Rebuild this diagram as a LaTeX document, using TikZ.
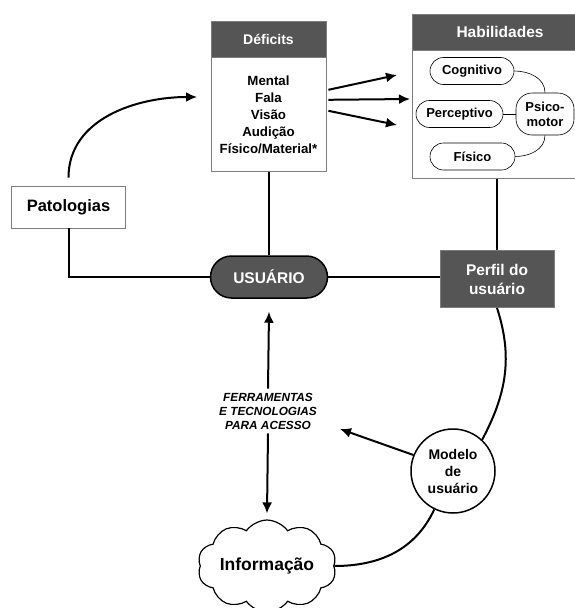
\documentclass[tikz,border=0pt]{standalone}
\usepackage{fontspec}
\setmainfont{Liberation Sans}
\usepackage{xcolor}
\usepackage{tikz}
\usetikzlibrary{positioning,arrows.meta,shapes.symbols}
\definecolor{boxgray}{RGB}{85,85,85}
\definecolor{edgegray}{RGB}{125,125,125}

\tikzset{
	head/.style={draw=edgegray,line width=0.8pt,fill=boxgray,text=white,inner sep=0pt,align=center},
	body/.style={draw=edgegray,line width=0.8pt,fill=white,inner sep=0pt,align=center},
	oval/.style={draw,line width=0.6pt,rounded corners=13.5pt,minimum height=27,inner sep=0pt,align=center,font=\bfseries\fontsize{13}{15}\selectfont},
	pill/.style={draw,line width=1.5pt,fill=boxgray,text=white,rounded corners=21pt,minimum width=117,minimum height=42,font=\bfseries\fontsize{15.5}{18}\selectfont},
	conn/.style={line width=2pt},
	thin conn/.style={line width=0.6pt},
	tip/.style={-{Latex[length=11pt,width=10pt]}}
}

\begin{document}
\begin{tikzpicture}[x=1pt,y=-1pt]
	\useasboundingbox (0,0) rectangle (574,608);
	% boxes
	\node[head,minimum width=115,minimum height=36,font=\bfseries\fontsize{14}{16}\selectfont] (defhead) at (268.5,39) {Déficits};
	\node[body,minimum width=115,minimum height=114,anchor=north,font=\bfseries\fontsize{13.3}{17}\selectfont] (defbody) at (defhead.south) {Mental\\Fala\\Visão\\Audição\\Físico/Material*};
	\node[head,minimum width=176,minimum height=36,font=\bfseries\fontsize{15.5}{18}\selectfont] (habhead) at (500,32) {Habilidades};
	\node[body,minimum width=176,minimum height=128,anchor=north] (habbody) at (habhead.south) {};
	\node[oval,minimum width=84] (cog) at (472,71) {Cognitivo};
	\node[oval,minimum width=87] (perc) at (459.5,114) {Perceptivo};
	\node[oval,minimum width=85] (fis) at (472.5,156.5) {Físico};
	\node[oval,minimum width=58,minimum height=42,rounded corners=16pt] (psico) at (545,114) {Psico-\\motor};
	\node[head,minimum width=114,minimum height=57,font=\bfseries\fontsize{15.5}{19}\selectfont] (perfil) at (497,279) {Perfil do\\usuário};
	\node[body,minimum width=114,minimum height=42,font=\bfseries\fontsize{16.5}{19}\selectfont] (pat) at (68.5,207) {Patologias};
	\node[pill] (usu) at (269,277) {USUÁRIO};
	\node[font=\bfseries\itshape\fontsize{11.8}{14}\selectfont,align=center,inner sep=4pt] (ferr) at (268,411) {FERRAMENTAS\\E TECNOLOGIAS\\PARA ACESSO};
	\node[circle,draw,line width=1.5pt,minimum size=84,inner sep=0pt,align=center,font=\bfseries\fontsize{14}{17}\selectfont] (mod) at (453,471) {Modelo\\de\\usuário};
	\node[cloud,draw,line width=1.2pt,cloud puffs=10,cloud puff arc=110,aspect=1.8,minimum width=118,minimum height=68,inner sep=0pt,font=\bfseries\fontsize{17.5}{20}\selectfont] (info) at (267,566) {Informação};
	% free ends
	\coordinate (patend) at (197,97);
	\coordinate (habin1) at (397,75);
	\coordinate (habin2) at (410,99);
	\coordinate (habin3) at (397,125);
	\coordinate (toolend) at (340,429);
	% connectors
	\draw[conn,tip] ([yshift=8pt]pat.north) to[out=90,in=180] (patend);
	\draw[conn,tip] ([xshift=2pt,yshift=25pt]defbody.east) -- (habin1);
	\draw[conn,tip] ([xshift=2pt,yshift=15pt]defbody.east) -- (habin2);
	\draw[conn,tip] ([xshift=2pt,yshift=4pt]defbody.east) -- (habin3);
	\draw[thin conn] (cog.east) to[out=0,in=90] (psico.north);
	\draw[thin conn] (perc.east) -- (psico.west);
	\draw[thin conn] (fis.east) to[out=0,in=-90] (psico.south);
	\draw[conn] (pat.south) |- (usu.west);
	\draw[conn] (defbody.south -| usu.north) -- (usu.north);
	\draw[conn] (usu.east) -- (usu.east -| perfil.west);
	\draw[conn] (habbody.south -| perfil.north) -- (perfil.north);
	\draw[conn,tip] (ferr.north) -- ([yshift=-13pt]usu.south);
	\draw[conn,tip] (ferr.south) -- ([yshift=6pt]info.north);
	\draw[conn] (perfil.south) to[out=-72,in=62] (mod.47);
	\draw[conn,tip] (mod.158) -- (toolend);
	\draw[conn] (mod.244) to[out=245,in=0] (info.east);
\end{tikzpicture}
\end{document}
